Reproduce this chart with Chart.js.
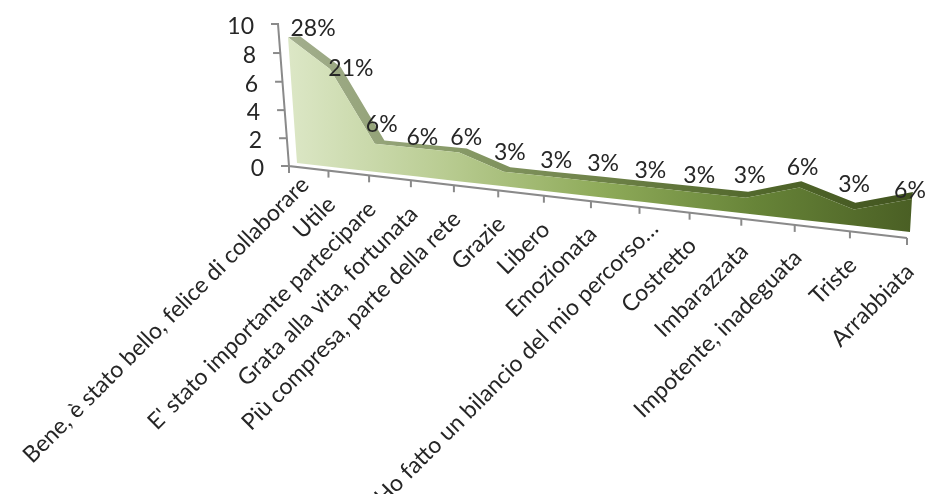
<!DOCTYPE html>
<html><head><meta charset="utf-8">
<style>html,body{margin:0;padding:0;background:#fff}canvas{display:block}</style>
<script src="https://cdn.jsdelivr.net/npm/chart.js@4"></script>
</head><body>
<canvas id="c" width="927" height="494"></canvas>
<script>
const categories = ["Bene, è stato bello, felice di collaborare","Utile","E' stato importante partecipare","Grata alla vita, fortunata","Più compresa, parte della rete","Grazie","Libero","Emozionata","Ho fatto un bilancio del mio percorso…","Costretto","Imbarazzata","Impotente, inadeguata","Triste","Arrabbiata"];
const responses = [9,7,2,2,2,1,1,1,1,1,1,2,1,2];
const percentLabels = ["28%","21%","6%","6%","6%","3%","3%","3%","3%","3%","3%","6%","3%","6%"];
const labelNudgeX = [25,21,7,6,7,6,7,7,6,5,4,3,0,-2];
const labelNudgeY = [-9,0,-19,-11,-15,-19,-16,-18,-16,-17,-22,-20,-25,-8];
const tickNudgeX = [16,3,3,3,3,3,2,2,15,3,3,3,3,3];
const tickNudgeY = [15,30,30,30,30,30,30,29,18,29,29,29,30,30];

function plane(q){
  const [[x0,y0],[x1,y1],[x2,y2],[x3,y3]] = q;
  const dx1=x1-x2,dx2=x3-x2,sx=x0-x1+x2-x3,dy1=y1-y2,dy2=y3-y2,sy=y0-y1+y2-y3;
  const den=dx1*dy2-dx2*dy1, g=(sx*dy2-dx2*sy)/den, h=(dx1*sy-sx*dy1)/den;
  const a=x1-x0+g*x1,b=x3-x0+h*x3,d=y1-y0+g*y1,e=y3-y0+h*y3;
  return (u,v)=>{const w=g*u+h*v+1;return [(a*u+b*v+x0)/w,(d*u+e*v+y0)/w];};
}
const axisPlane  = plane([[289,166],[907,238],[916,66],[279,24]]);
const frontPlane = plane([[297,163],[910,232],[920,62],[287,23]]);
const backPlane  = plane([[309,160],[911,225],[921,55],[299,22]]);

const ctx2 = document.getElementById('c').getContext('2d');
const frontGrad = ctx2.createLinearGradient(288,0,912,0);
[[0,'#dce7c6'],[.25,'#b9cc92'],[.5,'#8fab5a'],[.75,'#678438'],[1,'#4a5f24']].forEach(s=>frontGrad.addColorStop(s[0],s[1]));
const backGrad = ctx2.createLinearGradient(288,0,912,0);
[[0,'#a3ae8e'],[.25,'#8a9c6a'],[.5,'#6e8248'],[.75,'#52682c'],[1,'#42551f']].forEach(s=>backGrad.addColorStop(s[0],s[1]));

const LABEL='#262626';
const perspective = {
  id:'perspective',
  beforeDatasetsDraw(chart){
    const c=chart.ctx, a=chart.chartArea, xs=chart.scales.x, ys=chart.scales.y;
    const U=x=>(x-a.left)/(a.right-a.left), V=y=>(a.bottom-y)/(a.bottom-a.top);
    const base=ys.getPixelForValue(0);
    c.save();
    c.strokeStyle='#8a8a8a';c.lineWidth=2;c.lineCap='butt';
    let p0=axisPlane(0,0),p1=axisPlane(1,0),p2=axisPlane(0,1);
    c.beginPath();c.moveTo(p2[0]-1,p2[1]);c.lineTo(p0[0],p0[1]);c.lineTo(p1[0],p1[1]);c.stroke();
    categories.forEach((t,i)=>{const q=axisPlane(U(xs.getPixelForValue(i)),0);
      c.beginPath();c.moveTo(q[0],q[1]);c.lineTo(q[0],q[1]+7);c.stroke();
      c.save();c.translate(q[0]+tickNudgeX[i],q[1]+tickNudgeY[i]);c.rotate(-Math.PI/4);
      c.font='23px Lato';c.fillStyle=LABEL;c.textAlign='right';c.textBaseline='middle';
      c.fillText(xs.getLabelForValue(i),0,0);c.restore();});
    ys.ticks.forEach(t=>{const q=axisPlane(0,V(ys.getPixelForValue(t.value)));
      c.beginPath();c.moveTo(q[0]-8,q[1]);c.lineTo(q[0],q[1]);c.stroke();
      c.font='23px Lato';c.fillStyle=LABEL;c.textAlign='right';c.textBaseline='middle';
      c.fillText(String(t.value),q[0]-25,q[1]+2.5);});
    c.restore();
    const back=chart.getDatasetMeta(1).data.map(pt=>backPlane(U(pt.x),V(pt.y)));
    const frontMeta=chart.getDatasetMeta(0).data;
    const front=frontMeta.map(pt=>frontPlane(U(pt.x),V(pt.y)));
    const floor=frontMeta.map(pt=>frontPlane(U(pt.x),V(base)));
    const trace=(pts,fill)=>{c.beginPath();pts.forEach((q,i)=>i?c.lineTo(q[0],q[1]):c.moveTo(q[0],q[1]));c.closePath();c.fillStyle=fill;c.fill();};
    trace(front.concat(back.slice().reverse()),backGrad);
    trace(front.concat(floor.slice().reverse()),frontGrad);
  },
  afterDatasetsDraw(chart){
    const c=chart.ctx,a=chart.chartArea;
    const U=x=>(x-a.left)/(a.right-a.left), V=y=>(a.bottom-y)/(a.bottom-a.top);
    c.save();c.font='23px Lato';c.fillStyle=LABEL;c.textAlign='center';c.textBaseline='middle';
    chart.getDatasetMeta(0).data.forEach((pt,i)=>{
      const q=frontPlane(U(pt.x),V(pt.y));
      c.fillText(percentLabels[i],q[0]+labelNudgeX[i],q[1]+labelNudgeY[i]);
    });
    c.restore();
  }
};

new Chart(ctx2,{
  type:'line',
  data:{labels:categories,datasets:[
    {label:'front',data:responses,borderWidth:0,pointRadius:0,fill:false,clip:false},
    {label:'back',data:responses,borderWidth:0,pointRadius:0,fill:false,clip:false}
  ]},
  options:{
    responsive:false,animation:false,events:[],
    layout:{padding:0},
    plugins:{legend:{display:false},tooltip:{enabled:false},title:{display:false}},
    scales:{
      x:{display:false,offset:false},
      y:{display:false,min:0,max:10,ticks:{stepSize:2}}
    }
  },
  plugins:[perspective]
});
</script>
</body></html>
